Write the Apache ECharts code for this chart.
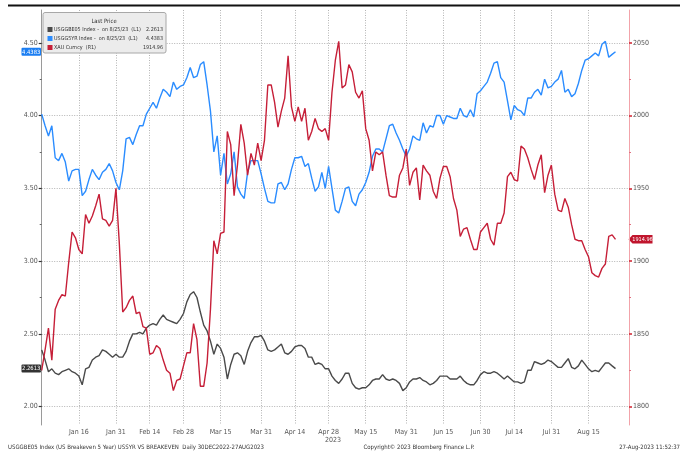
<!DOCTYPE html>
<html><head><meta charset="utf-8">
<script src="https://cdn.jsdelivr.net/npm/echarts@6/dist/echarts.min.js"></script>
<style>html,body{margin:0;padding:0;background:#fff}#c{width:686px;height:452px}</style>
</head><body><div id="c"></div>
<script>
// ---------- data ----------
const startDate = [2022, 11, 30];          // Dec 30 2022, daily (weekdays)
const categoryCount = 175;                 // axis runs a few days past last print
const tickLabels = ['Jan 16','Jan 31','Feb 14','Feb 28','Mar 15','Mar 31','Apr 14','Apr 28','May 15','May 31','Jun 15','Jun 30','Jul 14','Jul 31','Aug 15'];
const leftTicks = [2.00, 2.50, 3.00, 3.50, 4.00, 4.50];
const leftMinorTicks = [2.25, 2.75, 3.25, 3.75, 4.25];
const rightTicks = [1800, 1850, 1900, 1950, 2000, 2050];
const rightMinorTicks = [1825, 1875, 1925, 1975, 2025];

const breakeven5y = [
 2.39,2.32,2.24,2.26,2.23,2.22,2.24,2.25,2.26,2.24,
 2.23,2.21,2.15,2.26,2.27,2.32,2.34,2.35,2.39,2.38,
 2.36,2.34,2.36,2.34,2.34,2.38,2.45,2.50,2.50,2.51,
 2.50,2.54,2.56,2.57,2.56,2.60,2.63,2.60,2.59,2.58,
 2.57,2.60,2.64,2.72,2.77,2.79,2.75,2.65,2.56,2.52,
 2.45,2.36,2.43,2.40,2.34,2.19,2.29,2.36,2.37,2.35,
 2.29,2.38,2.44,2.48,2.48,2.49,2.45,2.39,2.38,2.39,
 2.41,2.43,2.37,2.36,2.38,2.41,2.42,2.42,2.40,2.34,
 2.34,2.29,2.30,2.29,2.26,2.26,2.21,2.18,2.16,2.19,
 2.23,2.23,2.16,2.13,2.12,2.13,2.13,2.15,2.18,2.19,
 2.19,2.22,2.19,2.18,2.19,2.18,2.16,2.11,2.13,2.17,
 2.19,2.19,2.20,2.18,2.17,2.15,2.16,2.18,2.21,2.21,
 2.21,2.19,2.19,2.19,2.21,2.18,2.16,2.15,2.15,2.18,
 2.22,2.24,2.23,2.23,2.24,2.23,2.21,2.19,2.21,2.19,
 2.17,2.17,2.16,2.17,2.25,2.25,2.31,2.30,2.29,2.30,
 2.32,2.31,2.29,2.27,2.27,2.30,2.33,2.27,2.26,2.28,
 2.32,2.29,2.26,2.24,2.25,2.24,2.27,2.30,2.30,2.28,
 2.2613];

const yield5y = [
 4.01,3.93,3.86,3.93,3.71,3.69,3.74,3.68,3.55,3.62,
 3.63,3.63,3.45,3.48,3.56,3.63,3.59,3.56,3.61,3.63,
 3.67,3.62,3.54,3.49,3.62,3.84,3.85,3.80,3.87,3.93,
 3.93,4.01,4.05,4.09,4.05,4.12,4.18,4.16,4.13,4.23,
 4.18,4.20,4.21,4.26,4.33,4.26,4.27,4.35,4.37,4.21,
 4.03,3.75,3.86,3.59,3.74,3.53,3.60,3.75,3.51,3.46,
 3.43,3.61,3.69,3.69,3.69,3.60,3.50,3.41,3.40,3.40,
 3.53,3.54,3.49,3.53,3.63,3.71,3.71,3.72,3.65,3.67,
 3.57,3.48,3.51,3.61,3.50,3.65,3.50,3.35,3.33,3.41,
 3.50,3.51,3.41,3.38,3.46,3.49,3.54,3.61,3.72,3.77,
 3.77,3.75,3.84,3.93,3.94,3.88,3.83,3.77,3.72,3.77,
 3.86,3.84,3.83,3.95,3.88,3.93,3.92,4.00,4.00,3.94,
 4.00,3.99,3.98,3.98,4.05,4.00,3.99,4.04,3.99,4.15,
 4.17,4.20,4.23,4.29,4.36,4.37,4.26,4.23,4.10,3.97,
 4.07,4.04,4.03,4.00,4.12,4.12,4.16,4.18,4.14,4.25,
 4.19,4.20,4.23,4.25,4.31,4.16,4.18,4.13,4.15,4.22,
 4.31,4.38,4.39,4.41,4.43,4.41,4.49,4.51,4.40,4.42,
 4.4383];

const gold = [
 1825,1839,1854,1832,1867,1873,1877,1876,1899,1920,
 1916,1908,1905,1932,1926,1931,1938,1946,1929,1928,
 1924,1928,1950,1912,1865,1868,1873,1876,1864,1865,
 1855,1854,1836,1837,1842,1840,1832,1825,1823,1811,
 1818,1819,1828,1837,1837,1857,1846,1814,1814,1830,
 1867,1914,1905,1919,1920,1989,1980,1945,1966,1994,
 1981,1959,1974,1966,1981,1969,1983,2021,2021,2009,
 1992,2003,2012,2041,2006,1996,2006,1996,2005,1983,
 1989,1998,1991,1989,1991,1983,2016,2038,2051,2019,
 2021,2035,2030,2016,2012,2017,1991,1983,1962,1975,
 1973,1975,1959,1945,1944,1944,1959,1964,1977,1952,
 1961,1964,1942,1966,1962,1959,1948,1943,1957,1965,
 1965,1958,1943,1935,1917,1922,1923,1915,1908,1908,
 1920,1923,1926,1915,1911,1926,1926,1933,1958,1961,
 1956,1955,1979,1977,1971,1963,1956,1966,1973,1947,
 1959,1966,1946,1935,1934,1943,1937,1925,1915,1914,
 1914,1908,1903,1892,1890,1889,1895,1898,1917,1918,
 1914.96];

// ---------- categories (weekday calendar) ----------
const MONTHS = ['Jan','Feb','Mar','Apr','May','Jun','Jul','Aug','Sep','Oct','Nov','Dec'];
const dates = [];
{
  const d = new Date(Date.UTC(startDate[0], startDate[1], startDate[2]));
  while (dates.length < categoryCount) {
    const wd = d.getUTCDay();
    if (wd !== 0 && wd !== 6) dates.push(MONTHS[d.getUTCMonth()] + ' ' + String(d.getUTCDate()).padStart(2, '0'));
    d.setUTCDate(d.getUTCDate() + 1);
  }
}

const FF = "'Liberation Sans Narrow','DejaVu Sans Condensed','Liberation Sans',sans-serif";
const C_GRAY = '#4a4a4a', C_BLUE = '#2a8cff', C_RED = '#c61f38';
const isTick = (i, v) => tickLabels.indexOf(v) >= 0;

const chart = echarts.init(document.getElementById('c'), null, {renderer: 'canvas'});
chart.setOption({
  animation: false,
  backgroundColor: '#fff',
  grid: {left: 41.7, right: 57, top: 10, bottom: 27, containLabel: false},
  xAxis: {
    type: 'category', data: dates, boundaryGap: false,
    axisLine: {show: false},
    axisTick: {show: false},
    axisLabel: {interval: isTick, fontSize: 7, color: '#555', margin: 4, fontFamily: FF},
    splitLine: {show: true, interval: isTick, lineStyle: {color: '#b4b4b4', type: [1, 1.5], width: 1}}
  },
  yAxis: [
    {type: 'value', position: 'left', min: 1.874, max: 4.725,
     axisLine: {show: true, lineStyle: {color: '#9a9a9a', width: 1}},
     axisTick: {show: true, customValues: leftTicks, length: 3, lineStyle: {color: '#333', width: 1.2}},
     axisLabel: {customValues: leftTicks, formatter: v => v.toFixed(2), fontSize: 7, color: '#555', margin: 4, fontFamily: FF},
     splitLine: {show: true, lineStyle: {color: '#b4b4b4', type: [1, 1.5], width: 1}}},
    {type: 'value', position: 'right', min: 1787.4, max: 2072.5,
     axisLine: {show: true, lineStyle: {color: '#f2a3aa', width: 1}},
     axisTick: {show: true, customValues: rightTicks, length: 3, lineStyle: {color: '#d0202e', width: 1.5}},
     axisLabel: {customValues: rightTicks, formatter: v => String(v), fontSize: 7, color: '#555', margin: 4, fontFamily: FF},
     splitLine: {show: false}},
    {type: 'value', position: 'left', min: 1.874, max: 4.725,
     axisLine: {show: false},
     axisTick: {show: true, customValues: leftMinorTicks, length: 2, lineStyle: {color: '#666'}},
     axisLabel: {show: false}, splitLine: {show: false}},
    {type: 'value', position: 'right', min: 1787.4, max: 2072.5,
     axisLine: {show: false},
     axisTick: {show: true, customValues: rightMinorTicks, length: 2, lineStyle: {color: '#e07080'}},
     axisLabel: {show: false}, splitLine: {show: false}}
  ],
  series: [
    {name: 'USGGBE05 Index', type: 'line', yAxisIndex: 0, data: breakeven5y, symbol: 'none',
     lineStyle: {color: C_GRAY, width: 1.4}, itemStyle: {color: C_GRAY}},
    {name: 'USGG5YR Index', type: 'line', yAxisIndex: 0, data: yield5y, symbol: 'none',
     lineStyle: {color: C_BLUE, width: 1.4}, itemStyle: {color: C_BLUE}},
    {name: 'XAU Curncy', type: 'line', yAxisIndex: 1, data: gold, symbol: 'none',
     lineStyle: {color: C_RED, width: 1.4}, itemStyle: {color: C_RED}}
  ]
});

// ---------- overlays: value tags, legend, footer ----------
const lastBE = breakeven5y[breakeven5y.length - 1];
const lastY = yield5y[yield5y.length - 1];
const lastG = gold[gold.length - 1];
const yBE = chart.convertToPixel({yAxisIndex: 0}, lastBE);
const yY = chart.convertToPixel({yAxisIndex: 0}, lastY);
const yG = chart.convertToPixel({yAxisIndex: 1}, lastG);
const ts = (txt, x, y, o) => Object.assign({type: 'text', x, y, style: Object.assign({text: txt, font: '5.4px ' + FF, fill: '#333', textVerticalAlign: 'middle'}, o || {})});

function leftTag(y, txt, color) {
  return [
    {type: 'rect', shape: {x: 21.5, y: y - 4, width: 19.5, height: 8, r: 1}, style: {fill: color}},
    ts(txt, 31.2, y + 0.3, {fill: '#fff', textAlign: 'center', font: '5.8px ' + FF})
  ];
}
const rx0 = 628.5, rx1 = 652.5;
const graphics = [
  {type: 'line', shape: {x1: 8, y1: 5.5, x2: 680, y2: 5.5}, style: {stroke: '#111', lineWidth: 2}},
  ...leftTag(yY, lastY.toFixed(4), '#1c7ef2'),
  ...leftTag(yBE, lastBE.toFixed(4), '#333'),
  {type: 'polygon', shape: {points: [[rx0, yG], [rx0 + 4, yG - 4.3], [rx1, yG - 4.3], [rx1, yG + 4.3], [rx0 + 4, yG + 4.3]]}, style: {fill: '#c0152d'}},
  ts(lastG.toFixed(2), (rx0 + 4 + rx1) / 2, yG + 0.3, {fill: '#fff', textAlign: 'center', font: '5.5px ' + FF}),
  // legend box
  {type: 'rect', shape: {x: 43, y: 12.5, width: 123, height: 40.5, r: 2}, style: {fill: '#ececec', stroke: '#a8a8a8', lineWidth: 1}},
  ts('Last Price', 104, 21, {textAlign: 'center', font: '5.8px ' + FF}),
  {type: 'rect', shape: {x: 47.5, y: 27, width: 5, height: 5}, style: {fill: C_GRAY}},
  {type: 'rect', shape: {x: 47.5, y: 36, width: 5, height: 5}, style: {fill: C_BLUE}},
  {type: 'rect', shape: {x: 47.5, y: 45, width: 5, height: 5}, style: {fill: C_RED}},
  ts('USGGBE05 Index -  on 8/25/23  (L1)', 54, 29.6),
  ts('USGG5YR Index -  on 8/25/23  (L1)', 54, 38.6),
  ts('XAU Curncy  (R1)', 54, 47.6),
  ts(lastBE.toFixed(4), 163, 29.6, {textAlign: 'right'}),
  ts(lastY.toFixed(4), 163, 38.6, {textAlign: 'right'}),
  ts(lastG.toFixed(2), 163, 47.6, {textAlign: 'right'}),
  // year label & footer
  ts('2023', 333, 440, {textAlign: 'center', fill: '#555', font: '7px ' + FF}),
  ts('USGGBE05 Index (US Breakeven 5 Year) USSYR VS BREAKEVEN  Daily 30DEC2022-27AUG2023', 8, 447.5, {font: '6px ' + FF}),
  ts('Copyright\u00A9 2023 Bloomberg Finance L.P.', 419, 447.5, {textAlign: 'center', font: '6px ' + FF}),
  ts('27-Aug-2023 11:52:37', 680, 447.5, {textAlign: 'right', font: '6px ' + FF})
];
chart.setOption({graphic: graphics});
</script>
</body></html>
